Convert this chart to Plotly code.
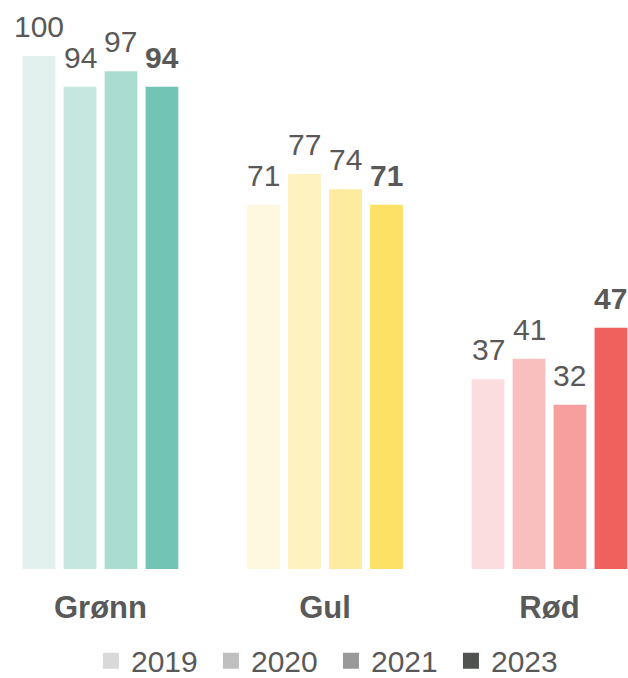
import plotly.graph_objects as go

categories = ["Grønn", "Gul", "Rød"]
years = ["2019", "2020", "2021", "2023"]
values = {
    "2019": [100, 71, 37],
    "2020": [94, 77, 41],
    "2021": [97, 74, 32],
    "2023": [94, 71, 47],
}
bar_colors = {
    "2019": ["#E2F1EE", "#FFF8E0", "#FCDDDF"],
    "2020": ["#C6E6E0", "#FEF2C0", "#F9BFBF"],
    "2021": ["#AADCD2", "#FDEBA0", "#F79F9F"],
    "2023": ["#72C4B4", "#FDE165", "#F0605D"],
}
legend_colors = {"2019": "#D9D9D9", "2020": "#BFBFBF", "2021": "#999999", "2023": "#505350"}

TEXT = "#595959"
FONT = "Liberation Sans, Arial, sans-serif"

fig = go.Figure()
for y in years:
    fig.add_trace(go.Bar(x=categories, y=values[y], name=y,
                         marker=dict(color=bar_colors[y], line=dict(width=0)),
                         showlegend=False, hoverinfo="skip"))
# legend-only proxies in gray
for y in years:
    fig.add_trace(go.Scatter(x=[None], y=[None], mode="markers", name=y,
                             marker=dict(symbol="square", size=16, color=legend_colors[y])))

n = len(years)
slot = 0.73 / n
annotations = []
for i, y in enumerate(years):
    off = (i - (n - 1) / 2) * slot
    for j, c in enumerate(categories):
        v = values[y][j]
        txt = f"<b>{v}</b>" if y == "2023" else str(v)
        annotations.append(dict(x=j + off, y=v, xref="x", yref="y", text=txt,
                                showarrow=False, yanchor="bottom", yshift=11,
                                font=dict(size=30, color=TEXT, family=FONT)))

fig.update_layout(
    width=628, height=678,
    margin=dict(l=0, r=0, t=0, b=109, autoexpand=False),
    paper_bgcolor="white", plot_bgcolor="white",
    barmode="group", bargap=0.27, bargroupgap=0.2,
    font=dict(family=FONT, color=TEXT, size=30),
    showlegend=True,
    legend=dict(orientation="h", x=0.527, xanchor="center", y=-0.207, yanchor="bottom",
                font=dict(size=30, color=TEXT), itemclick=False, borderwidth=0,
                entrywidth=75, entrywidthmode="pixels", tracegroupgap=0),
    annotations=annotations,
    xaxis=dict(range=[-0.4477, 2.3497], showgrid=False, zeroline=False, showline=False,
               ticks="", tickfont=dict(size=31, color=TEXT, family=FONT, weight="bold"),
               ticklabelstandoff=17),
    yaxis=dict(range=[0, 110.9], visible=False, showgrid=False, zeroline=False),
)
fig.write_html("out.html", config={"displayModeBar": False},
               post_script="document.body.style.margin='0';document.body.style.overflow='hidden';")
